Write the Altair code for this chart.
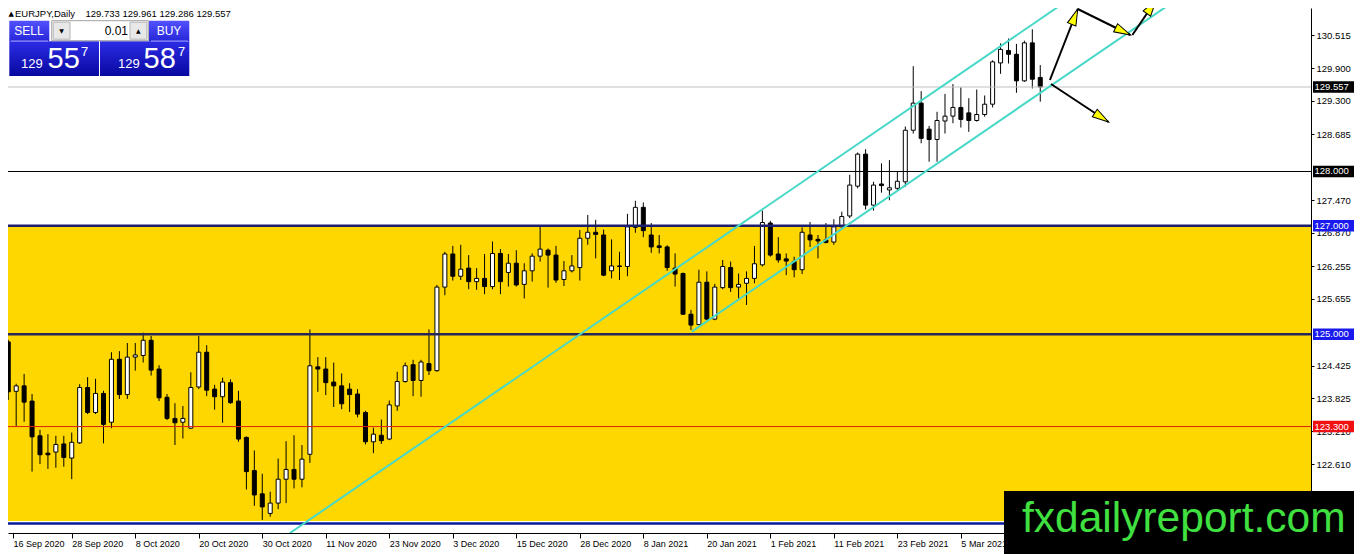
import math
import altair as alt
import pandas as pd

# ---------------- data (EURJPY daily candles) ----------------
opens = [124.86, 123.95, 124.05, 123.77, 123.13, 122.81, 122.83, 122.98, 122.72, 123.00,
         124.02, 123.56, 123.91, 123.38, 124.54, 123.89, 124.58, 124.61, 124.89, 124.36,
         123.84, 123.45, 123.38, 123.27, 124.03, 124.67, 123.99, 123.85, 124.11, 123.77,
         123.10, 122.49, 122.06, 121.70, 121.89, 122.33, 122.51, 122.33, 122.79, 124.40,
         124.36, 124.12, 124.05, 123.99, 123.90, 123.56, 123.02, 123.14, 123.07, 123.68,
         124.13, 124.44, 124.15, 124.46, 124.33, 125.87, 126.48, 126.07, 126.22, 125.97,
         126.03, 125.88, 126.49, 126.14, 126.31, 125.92, 126.17, 126.44, 126.55, 126.46,
         126.01, 126.17, 126.23, 126.77, 126.88, 126.83, 126.17, 126.26, 126.25, 126.97,
         127.34, 126.83, 126.63, 126.61, 126.22, 126.12, 125.37, 125.18, 125.96, 125.28,
         125.86, 126.23, 125.87, 125.94, 126.03, 126.28, 127.05, 126.48, 126.39, 126.34,
         126.19, 126.83, 126.75, 126.74, 126.70, 126.98, 127.18, 127.73, 128.32, 127.38,
         127.77, 127.66, 127.69, 127.81, 128.76, 129.26, 128.78, 128.59, 128.93, 129.02,
         129.18, 129.08, 128.94, 129.05, 129.24, 130.00, 130.23, 130.16, 129.67, 130.37,
         129.733]
highs = [124.90, 124.09, 124.27, 123.90, 123.24, 123.16, 123.13, 123.13, 123.19, 124.08,
         124.21, 124.18, 123.96, 124.67, 124.69, 124.84, 124.84, 125.03, 124.97, 124.43,
         123.90, 123.73, 123.68, 124.30, 124.97, 124.80, 124.07, 124.20, 124.17, 123.96,
         123.12, 122.86, 122.43, 122.10, 122.71, 123.03, 123.14, 122.96, 125.09, 124.58,
         124.58, 124.48, 124.28, 124.10, 123.99, 123.59, 123.28, 123.43, 123.78, 124.31,
         124.48, 124.53, 124.53, 125.09, 125.91, 126.52, 126.63, 126.65, 126.46, 126.22,
         126.48, 126.71, 126.57, 126.48, 126.55, 126.31, 126.49, 127.01, 126.58, 126.63,
         126.35, 126.46, 126.92, 127.20, 127.11, 126.93, 126.75, 126.52, 127.22, 127.46,
         127.43, 127.05, 126.83, 126.64, 126.49, 126.14, 125.45, 126.19, 126.16, 125.93,
         126.37, 126.34, 126.12, 126.16, 126.63, 127.28, 127.09, 126.79, 126.49, 126.43,
         126.97, 127.07, 126.83, 127.05, 127.12, 127.26, 127.94, 128.35, 128.41, 127.81,
         128.15, 128.21, 128.01, 128.83, 129.94, 129.48, 128.84, 129.10, 129.43, 129.61,
         129.55, 129.35, 129.51, 129.40, 130.05, 130.36, 130.45, 130.35, 130.41, 130.62,
         129.961]
lows = [123.79, 123.30, 123.39, 122.47, 122.61, 122.52, 122.54, 122.56, 122.33, 122.98,
        123.53, 123.53, 122.99, 123.27, 123.81, 123.81, 124.33, 124.48, 124.24, 123.77,
        123.42, 122.96, 123.08, 123.26, 123.99, 123.86, 123.61, 123.37, 123.72, 123.02,
        122.14, 121.84, 121.58, 121.64, 121.78, 121.89, 122.16, 122.18, 122.63, 123.94,
        123.88, 123.66, 123.62, 123.57, 123.47, 122.97, 122.81, 122.98, 123.05, 123.59,
        124.11, 123.86, 123.85, 124.25, 124.31, 125.72, 125.99, 126.00, 125.83, 125.82,
        125.74, 125.83, 125.74, 125.88, 125.88, 125.66, 125.97, 126.34, 125.86, 125.95,
        125.89, 126.14, 125.99, 126.65, 126.40, 126.07, 126.03, 126.00, 126.07, 126.87,
        126.79, 126.50, 126.49, 126.17, 125.88, 125.36, 125.08, 125.17, 125.26, 125.26,
        125.83, 125.78, 125.66, 125.54, 125.94, 126.25, 126.43, 126.32, 126.09, 126.05,
        126.11, 126.61, 126.40, 126.68, 126.65, 126.98, 127.14, 127.69, 127.30, 127.28,
        127.61, 127.47, 127.65, 127.72, 128.70, 128.52, 128.18, 128.18, 128.70, 128.89,
        128.81, 128.73, 128.92, 129.01, 129.18, 129.80, 129.99, 129.45, 129.65, 129.53,
        129.286]
closes = [123.94, 124.05, 123.75, 123.11, 122.78, 122.78, 122.97, 122.73, 123.01, 124.02,
          123.56, 123.91, 123.34, 124.54, 123.89, 124.58, 124.62, 124.89, 124.34, 123.83,
          123.45, 123.37, 123.45, 124.02, 124.67, 123.97, 123.85, 124.12, 123.74, 123.07,
          122.47, 122.04, 121.82, 121.89, 122.33, 122.51, 122.33, 122.70, 124.42, 124.36,
          124.11, 124.05, 123.72, 123.89, 123.53, 123.02, 123.16, 123.04, 123.70, 124.13,
          124.42, 124.15, 124.49, 124.33, 125.87, 126.48, 126.07, 126.20, 125.97, 126.03,
          125.88, 126.49, 125.97, 126.31, 125.91, 126.17, 126.44, 126.57, 126.46, 126.00,
          126.17, 126.26, 126.77, 126.88, 126.84, 126.09, 126.26, 126.25, 126.98, 127.34,
          126.91, 126.61, 126.60, 126.23, 126.11, 125.37, 125.17, 125.96, 125.28, 125.87,
          126.25, 125.86, 125.92, 126.03, 126.30, 127.06, 126.46, 126.37, 126.35, 126.19,
          126.88, 126.74, 126.72, 126.69, 126.98, 127.17, 127.75, 128.32, 127.38, 127.75,
          127.74, 127.70, 127.82, 128.76, 129.26, 128.61, 128.59, 128.94, 129.02, 129.18,
          128.96, 128.94, 129.05, 129.24, 130.02, 130.25, 130.16, 129.67, 130.37, 129.70,
          129.557]
bar_index = list(range(len(opens)))

date_tick_index = [0.6, 8, 16, 24, 32, 40, 48, 56, 64, 72, 80, 88, 96, 104, 112, 120]
date_tick_labels = ["16 Sep 2020", "28 Sep 2020", "8 Oct 2020", "20 Oct 2020", "30 Oct 2020",
                    "11 Nov 2020", "23 Nov 2020", "3 Dec 2020", "15 Dec 2020", "28 Dec 2020",
                    "8 Jan 2021", "20 Jan 2021", "1 Feb 2021", "11 Feb 2021", "23 Feb 2021",
                    "5 Mar 2021"]
price_ticks = [130.515, 129.900, 129.300, 128.685, 127.470, 126.870, 126.255, 125.655,
               124.425, 123.825, 123.210, 122.610]

level_prices = [129.557, 128.000, 127.000, 125.000, 123.300, 121.514]
zone_low = [121.56]
zone_high = [127.00]

tag_prices = [129.557, 128.000, 127.000, 125.000, 123.300]
tag_texts = ["129.557", "128.000", "127.000", "125.000", "123.300"]

# trend-channel lines: (bar index, price) of both ends
chan_x1 = [35.4, 86.1]
chan_p1 = [121.33, 125.05]
chan_x2 = [133.0, 146.5]
chan_p2 = [131.11, 131.10]

# hand-drawn arrows: start and tip (bar index, price)
arr_x1 = [131.22, 134.72, 141.60, 131.35]
arr_p1 = [129.686, 130.994, 130.515, 129.612]
arr_x2 = [134.72, 141.35, 144.60, 138.60]
arr_p2 = [130.994, 130.515, 131.160, 128.912]

# ---------------- styles / layout ----------------
W, H = 1303, 525
XDOM = [0.6, 163.475]
YDOM = [121.339, 131.0125]
FONT = "Liberation Sans"

level_colors = ["#c0c0c0", "#000000", "#1e1e6e", "#26265a", "#e0200a", "#0a1a9a"]
level_widths = [1, 1, 2.5, 2.5, 1, 2.5]
tag_colors = ["#000000", "#000000", "#1a1aee", "#1a1aee", "#f01010"]

xs = alt.Scale(domain=XDOM, nice=False, zero=False)
ys = alt.Scale(domain=YDOM, nice=False, zero=False)

labels_js = "[" + ",".join("'" + s + "'" for s in date_tick_labels) + "]"
vals_js = "[" + ",".join(str(v) for v in date_tick_index) + "]"
xaxis = alt.Axis(orient="bottom", values=date_tick_index,
                 labelExpr=f"{labels_js}[indexof({vals_js}, datum.value)]",
                 title=None, grid=False, tickSize=5, tickColor="black", domainColor="black",
                 labelAlign="left", labelBaseline="top", labelPadding=1, labelFont=FONT,
                 labelFontSize=9, labelColor="black", labelFlush=False, labelOverlap=False)
yaxis = alt.Axis(orient="right", values=price_ticks, format=".3f", title=None, grid=False,
                 tickSize=3, tickColor="black", domainColor="black", labelFont=FONT,
                 labelFontSize=9.5, labelColor="black", labelPadding=2, labelFlush=False,
                 labelOverlap=False)


def X(f):
    return alt.X(f, type="quantitative", scale=xs, axis=xaxis)


def Y(f):
    return alt.Y(f, type="quantitative", scale=ys, axis=yaxis)


candles = pd.DataFrame({"i": bar_index, "o": opens, "h": highs, "l": lows, "c": closes})

zone = alt.Chart(pd.DataFrame({"lo": zone_low, "hi": zone_high})).mark_rect(
    color="#ffd700", clip=True).encode(y=Y("lo"), y2="hi")

wicks = alt.Chart(candles).mark_rule(color="black", strokeWidth=1, clip=True).encode(
    x=X("i"), y=Y("l"), y2="h")

bodies = alt.Chart(candles).mark_bar(size=4, stroke="black", strokeWidth=1, clip=True).encode(
    x=X("i"), y=Y("o"), y2="c",
    fill=alt.condition("datum.c > datum.o", alt.value("white"), alt.value("black")))

levels = alt.Chart(pd.DataFrame({"p": level_prices, "col": level_colors, "w": level_widths})).mark_rule(
    clip=True).encode(y=Y("p"), color=alt.Color("col:N", scale=None),
                      strokeWidth=alt.StrokeWidth("w:Q", scale=None))

channels = alt.Chart(pd.DataFrame({"x1": chan_x1, "p1": chan_p1, "x2": chan_x2, "p2": chan_p2})).mark_rule(
    color="#48d8c8", strokeWidth=2, clip=True).encode(x=X("x1"), x2="x2", y=Y("p1"), y2="p2")

arrow_df = pd.DataFrame({"x1": arr_x1, "p1": arr_p1, "x2": arr_x2, "p2": arr_p2})
ppx = W / (XDOM[1] - XDOM[0])
ppy = H / (YDOM[1] - YDOM[0])
arrow_df["ang"] = [
    math.degrees(math.atan2((b - a) * ppx, (q - p) * ppy)) % 360
    for a, p, b, q in zip(arr_x1, arr_p1, arr_x2, arr_p2)
]

arrow_lines = alt.Chart(arrow_df).mark_rule(color="black", strokeWidth=2, clip=True).encode(
    x=X("x1"), x2="x2", y=Y("p1"), y2="p2")

arrow_heads = alt.Chart(arrow_df).mark_point(
    shape="M0,0 L0.55,2 L-0.55,2 Z", size=270, filled=True, fill="#ffff00", fillOpacity=1,
    stroke="black", strokeWidth=1, opacity=1, clip=True).encode(
    x=X("x2"), y=Y("p2"), angle=alt.Angle("ang:Q", scale=None))

tags = pd.DataFrame({"p": tag_prices, "t": tag_texts, "bg": tag_colors})
tag_boxes = alt.Chart(tags).transform_calculate(
    top="datum.p + 0.105", bot="datum.p - 0.105").mark_rect().encode(
    x=alt.value(W + 2), x2=alt.value(W + 43), y=Y("top:Q"), y2="bot:Q",
    color=alt.Color("bg:N", scale=None))
tag_text = alt.Chart(tags).mark_text(align="left", baseline="middle", font=FONT, fontSize=9.5,
                                     color="white").encode(
    x=alt.value(W + 3.5), y=Y("p"), text="t:N")

one = pd.DataFrame({"k": [0]})


def rect_px(x1, x2, y1, y2, **mk):
    return alt.Chart(one).mark_rect(**mk).encode(
        x=alt.value(x1), x2=alt.value(x2), y=alt.value(y1), y2=alt.value(y2))


def text_px(x, y, s, **mk):
    opts = dict(font=FONT)
    opts.update(mk)
    return alt.Chart(one).mark_text(text=s, **opts).encode(x=alt.value(x), y=alt.value(y))


def grad(c1, c2):
    return {"gradient": "linear", "x1": 0, "y1": 0, "x2": 0, "y2": 1,
            "stops": [{"offset": 0, "color": c1}, {"offset": 1, "color": c2}]}


panel = [
    rect_px(1.3, 41.3, 12.7, 33.3, fill=grad("#5252ff", "#2626d8")),
    rect_px(141, 181.3, 12.7, 33.3, fill=grad("#5252ff", "#2626d8")),
    rect_px(1.3, 91, 33.3, 68, fill=grad("#2c2ce6", "#0808a0")),
    rect_px(92, 181.3, 33.3, 68, fill=grad("#2c2ce6", "#0808a0")),
    rect_px(3, 40, 32.6, 33.4, fill="#9a9aff"),
    rect_px(143, 180, 32.6, 33.4, fill="#9a9aff"),
    rect_px(43.7, 140.3, 12.7, 32.7, fill="white", stroke="#a0a0a0", strokeWidth=1),
    rect_px(45.2, 62, 14.2, 31.2, fill="#e8e8e8", stroke="#b4b4b4", strokeWidth=1),
    rect_px(122, 138.8, 14.2, 31.2, fill="#e8e8e8", stroke="#b4b4b4", strokeWidth=1),
    text_px(53.6, 22.7, "▼", font="DejaVu Sans", fontSize=6, color="black", align="center", baseline="middle"),
    text_px(130.4, 22.7, "▲", font="DejaVu Sans", fontSize=6, color="black", align="center", baseline="middle"),
    text_px(120, 22.7, "0.01", fontSize=12, color="black", align="right", baseline="middle"),
    text_px(21, 23, "SELL", fontSize=12, color="white", align="center", baseline="middle"),
    text_px(161, 23, "BUY", fontSize=12, color="white", align="center", baseline="middle"),
    text_px(13, 60.3, "129", fontSize=13, color="white", align="left", baseline="alphabetic"),
    text_px(39.5, 60.3, "55", fontSize=29, color="white", align="left", baseline="alphabetic"),
    text_px(73, 48, "7", fontSize=13, color="white", align="left", baseline="alphabetic"),
    text_px(110, 60.3, "129", fontSize=13, color="white", align="left", baseline="alphabetic"),
    text_px(135.5, 60.3, "58", fontSize=29, color="white", align="left", baseline="alphabetic"),
    text_px(170, 48, "7", fontSize=13, color="white", align="left", baseline="alphabetic"),
]

header_values = f"{opens[-1]:.3f} {highs[-1]:.3f} {lows[-1]:.3f} {closes[-1]:.3f}"
header = [
    text_px(0.5, 1.5, "▲", font="DejaVu Sans", fontSize=7, color="black", align="left", baseline="top"),
    text_px(7, 0.5, "EURJPY,Daily", fontSize=9.5, color="black", align="left", baseline="top"),
    text_px(77.5, 0.5, header_values, fontSize=9.5, color="black", align="left", baseline="top"),
]

logo = [
    rect_px(996, W + 43, 483, 546, fill="black"),
    text_px(1014, 523.7, "fxdailyreport.com", fontSize=42.5, color="#40e040", align="left",
            baseline="alphabetic"),
]

layers = [zone, wicks, bodies, levels, channels, arrow_lines, arrow_heads, tag_boxes, tag_text]
layers += panel + header + logo

chart = alt.layer(*layers).properties(
    width=W, height=H,
    padding={"left": 0, "top": 0, "right": 43, "bottom": 21},
    autosize=alt.AutoSizeParams(type="none"),
    background="white",
).configure_view(strokeWidth=0)

chart.save("out.html", embed_options={"renderer": "svg", "actions": False})
